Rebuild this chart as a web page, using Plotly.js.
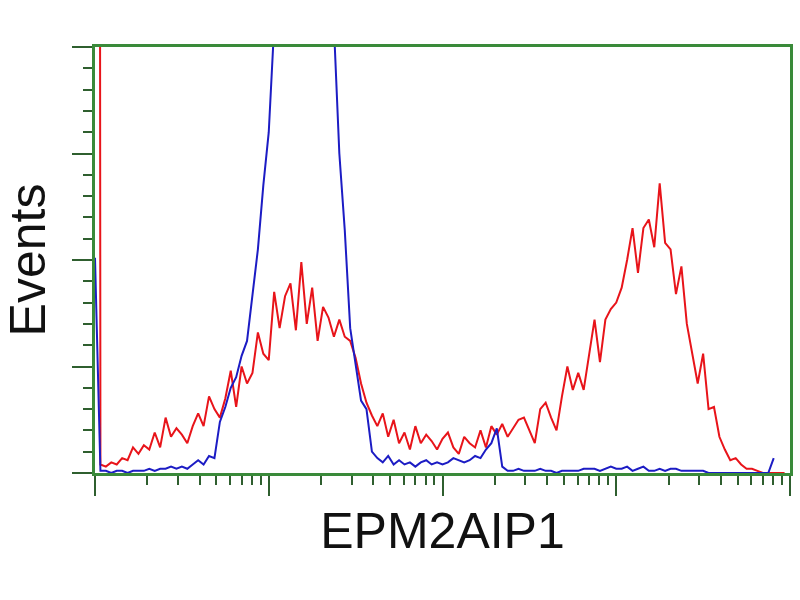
<!DOCTYPE html>
<html>
<head>
<meta charset="utf-8">
<script src="https://cdn.plot.ly/plotly-3.0.1.min.js"></script>
<style>html,body{margin:0;padding:0;background:#fff;}#chart{width:800px;height:600px;}</style>
</head>
<body>
<div id="chart"></div>
<script>
// Channel bins (4 log decades = 1024 channels)
var channels = [0,8,16,24,32,40,48,56,64,72,80,88,96,104,112,120,128,136,144,152,160,168,176,184,192,200,208,216,224,232,240,248,
256,264,272,280,288,296,304,312,320,328,336,344,352,360,368,376,384,392,400,408,416,424,432,440,448,456,464,472,480,488,496,504,
512,520,528,536,544,552,560,568,576,584,592,600,608,616,624,632,640,648,656,664,672,680,688,696,704,712,720,728,736,744,752,760,
768,776,784,792,800,808,816,824,832,840,848,856,864,872,880,888,896,904,912,920,928,936,944,952,960,968,976,984,992,1000,1008,1016];

// Stained sample (red)
var redCounts = [3000,4,3,5,4,7,6,12,9,13,11,19,12,26,17,21,18,14,22,28,22,36,30,26,35,48,31,50,42,47,66,56,
53,85,68,83,89,67,99,70,87,62,78,73,64,72,64,62,54,42,33,27,22,28,17,25,14,19,11,22,14,18,15,11,
16,19,12,9,17,14,12,20,12,22,18,23,17,21,25,26,20,14,30,33,26,20,36,50,39,47,39,56,72,52,72,77,
80,87,100,115,94,115,119,106,136,108,105,84,97,70,56,42,56,30,31,17,11,6,7,4,2,2,1,0,0,0,0,0];

// Isotype control (blue)
var blueCounts = [101,1,1,0,1,1,0,1,1,1,2,1,2,2,3,2,3,2,4,6,4,8,7,24,31,40,45,55,62,85,105,135,
160,210,260,300,330,340,335,320,300,280,250,230,210,150,114,68,50,34,30,10,7,5,8,4,6,4,5,3,5,6,4,5,
4,5,7,6,5,6,8,7,11,14,21,3,1,1,2,1,1,1,2,1,1,0,1,1,1,1,2,2,2,1,2,3,2,2,3,1,2,3,1,1,2,1,2,2,1,1,
1,1,1,0,0,0,0,0,0,0,0,0,0,0,0,7];

var xMajorTicks = [0,256,512,768,1024];
var xMinorTicks = [77,122,154,179,199,216,231,244, 333,378,410,435,455,472,487,500, 589,634,666,691,711,728,743,756, 845,890,922,947,967,984,999,1012];

var xTitle = 'EPM2AIP1';
var yTitle = 'Events';

var green = '#3a8a3a';
var tickCol = '#2f5f2f';

var traces = [
  {x: channels, y: redCounts, type: 'scatter', mode: 'lines', line: {color: '#e8141a', width: 2}, hoverinfo: 'skip'},
  {x: channels, y: blueCounts, type: 'scatter', mode: 'lines', line: {color: '#1c1cc4', width: 2}, hoverinfo: 'skip'}
];

var layout = {
  width: 800, height: 600,
  margin: {l: 95, r: 10, t: 47, b: 127},
  paper_bgcolor: '#ffffff', plot_bgcolor: '#ffffff',
  showlegend: false,
  font: {family: '"Liberation Sans", Arial, sans-serif', color: '#111'},
  xaxis: {
    range: [0, 1024], showgrid: false, zeroline: false,
    showline: true, mirror: true, linecolor: green, linewidth: 3,
    tickmode: 'array', tickvals: xMajorTicks, showticklabels: false,
    ticks: 'outside', ticklen: 20, tickwidth: 2, tickcolor: tickCol,
    minor: {tickmode: 'array', tickvals: xMinorTicks, ticks: 'outside', ticklen: 9, tickwidth: 2, tickcolor: tickCol, showgrid: false},
    title: {text: xTitle, font: {size: 50, color: '#111'}, standoff: 18},
    automargin: false, layer: 'below traces'
  },
  yaxis: {
    range: [0, 200], showgrid: false, zeroline: false,
    showline: true, mirror: true, linecolor: green, linewidth: 3,
    dtick: 50, tick0: 0, showticklabels: false,
    ticks: 'outside', ticklen: 20, tickwidth: 2, tickcolor: tickCol,
    minor: {dtick: 10, ticks: 'outside', ticklen: 9, tickwidth: 2, tickcolor: tickCol, showgrid: false},
    title: {text: yTitle, font: {size: 50, color: '#111'}, standoff: 22},
    automargin: false, layer: 'below traces'
  }
};

Plotly.newPlot('chart', traces, layout, {displayModeBar: false, staticPlot: true});
</script>
</body>
</html>
